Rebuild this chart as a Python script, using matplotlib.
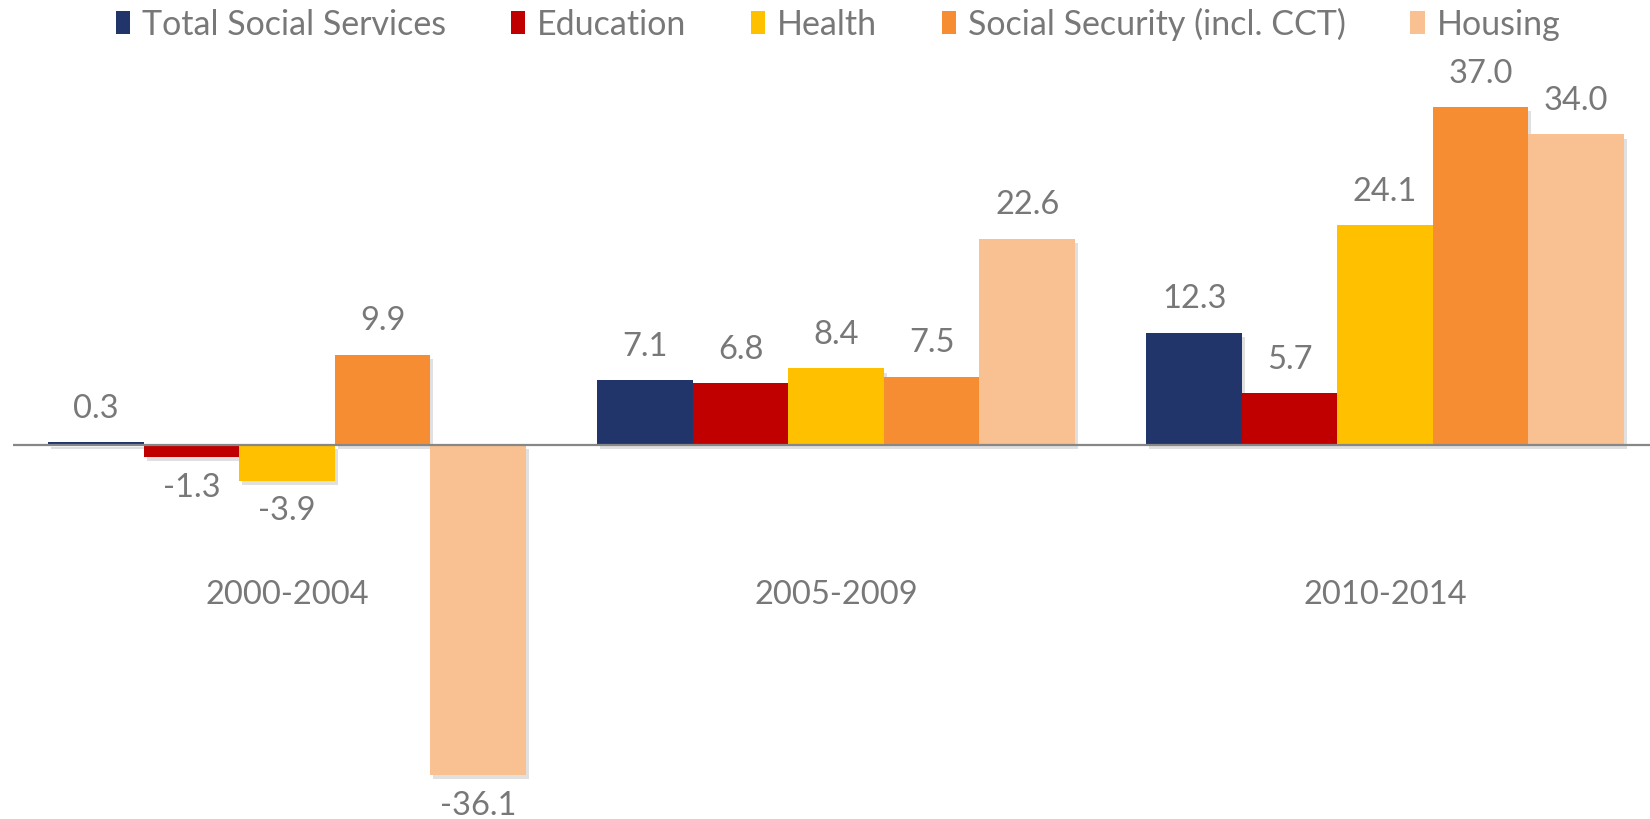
import matplotlib
matplotlib.use("Agg")
import matplotlib.pyplot as plt
import matplotlib.patheffects as pe
from matplotlib.patches import Patch
import numpy as np

periods = ["2000-2004", "2005-2009", "2010-2014"]
series = ["Total Social Services", "Education", "Health",
          "Social Security (incl. CCT)", "Housing"]
total_social = [0.3, 7.1, 12.3]
education = [-1.3, 6.8, 5.7]
health = [-3.9, 8.4, 24.1]
social_security = [9.9, 7.5, 37.0]
housing = [-36.1, 22.6, 34.0]
values = [total_social, education, health, social_security, housing]
colors = ["#22356B", "#C00000", "#FFC000", "#F68D33", "#F9C091"]

TEXT = "#787878"
FONT = "Lato"
FS = 23.5
FS_LEG = 24.5

fig = plt.figure(figsize=(16.5, 8.19), dpi=100)
ax = fig.add_axes([12.6 / 1650, 0, 1 - 12.6 / 1650, 1])

x = np.arange(len(periods))
w = 0.174
shadow = [pe.SimplePatchShadow(offset=(2, -3), shadow_rgbFace="#000000", alpha=0.12),
          pe.Normal()]
for i, (vals, col) in enumerate(zip(values, colors)):
    pos = x + (i - 2) * w
    bars = ax.bar(pos, vals, width=w, color=col, zorder=2)
    for b in bars:
        b.set_path_effects(shadow)
    for px, v in zip(pos, vals):
        off = 24 if v >= 0 else -22
        ax.annotate(f"{v:.1f}", (px, v), xytext=(0, off), textcoords="offset points",
                    ha="center", va="center", fontsize=FS, color=TEXT, family=FONT)

ax.axhline(0, color="#878787", linewidth=1.6, zorder=3)

for xi, lab in zip(x, periods):
    ax.text(xi, -16.4, lab, ha="center", va="center", fontsize=FS, color=TEXT, family=FONT)

ax.set_xlim(-0.5, -0.5 + 1637.4 / 549)
ax.set_ylim(-40.9, 48.7)
ax.axis("off")

handles = [Patch(facecolor=c, edgecolor="none") for c in colors]
leg = fig.legend(handles, series, loc="center", bbox_to_anchor=(838 / 1650, 1 - 24 / 819),
                 ncol=5, frameon=False, handlelength=0.42, handleheight=0.64,
                 handletextpad=0.35, columnspacing=1.9,
                 prop={"family": FONT, "size": FS_LEG})
for t in leg.get_texts():
    t.set_color(TEXT)

fig.savefig("out.png", dpi=100)
